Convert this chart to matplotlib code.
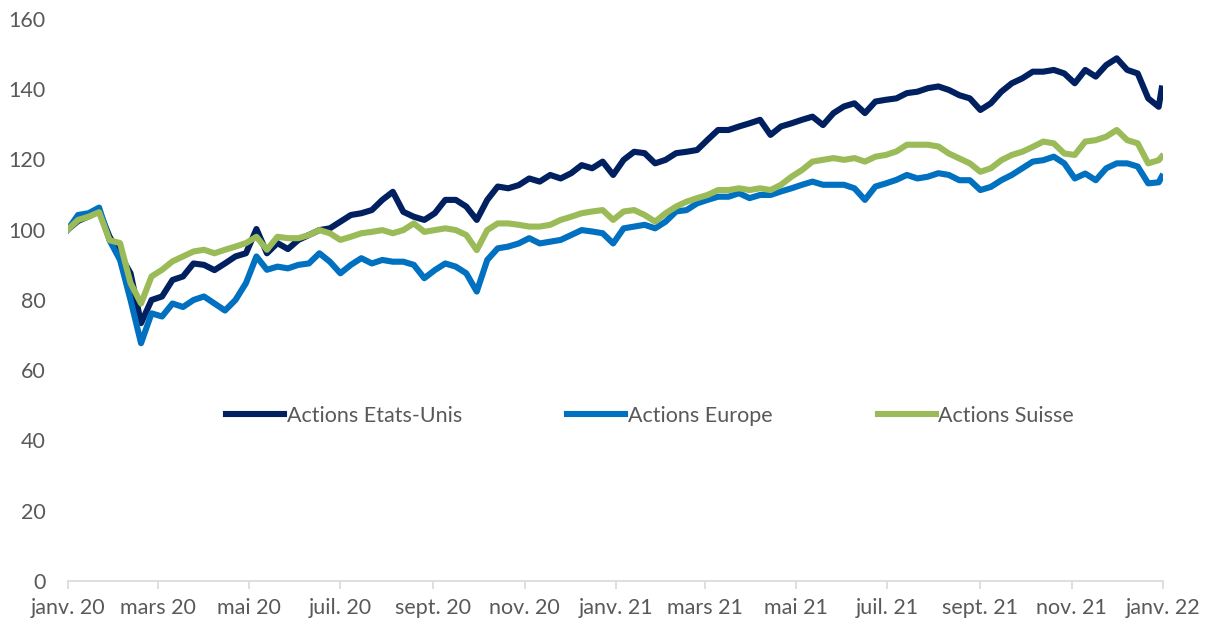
import matplotlib
matplotlib.use("Agg")
import matplotlib.pyplot as plt
import pandas as pd

# weekly readings from 2020-01-01, last value at 2021-12-31
us = [100, 102.5, 103.8, 105.3, 98, 92.8, 87.6, 73.4, 80, 81,
      85.7, 86.7, 90.4, 90, 88.5, 90.4, 92.4, 93.3, 100.2, 93.3,
      96.2, 94.5, 97.1, 98.5, 99.9, 100.4, 102.3, 104.2, 104.7, 105.6,
      108.5, 110.8, 105.1, 103.7, 102.8, 104.7, 108.5, 108.5, 106.6, 102.8,
      108.5, 112.3, 111.8, 112.7, 114.6, 113.7, 115.6, 114.6, 116.1, 118.4,
      117.5, 119.4, 115.6, 119.9, 122.2, 121.8, 118.9, 119.9, 121.8, 122.2,
      122.7, 125.6, 128.4, 128.4, 129.4, 130.3, 131.3, 127.0, 129.4, 130.3,
      131.3, 132.2, 129.8, 133.2, 135.1, 136, 133.2, 136.5, 137, 137.4,
      138.9, 139.3, 140.3, 140.8, 139.8, 138.3, 137.4, 134.1, 136, 139.3,
      141.7, 143.1, 145, 145, 145.5, 144.5, 141.7, 145.5, 143.6, 146.9,
      148.8, 145.5, 144.5, 137.4, 135, 140.2]
europe = [100, 104.2, 104.7, 106.3, 97, 91.4, 80, 67.7, 76.2, 75.3,
          79, 78, 80, 81, 79, 77, 80, 84.8, 92.4, 88.6,
          89.5, 89, 90, 90.4, 93.3, 90.9, 87.6, 90, 91.9, 90.4,
          91.4, 90.9, 90.9, 90, 86.2, 88.5, 90.4, 89.5, 87.6, 82.4,
          91.4, 94.7, 95.2, 96.1, 97.6, 96.1, 96.6, 97.1, 98.5, 99.9,
          99.5, 99, 96.1, 100.4, 100.9, 101.4, 100.4, 102.3, 105.2, 105.6,
          107.5, 108.5, 109.4, 109.4, 110.4, 109, 109.9, 109.9, 110.9, 111.8,
          112.8, 113.7, 112.8, 112.8, 112.8, 111.8, 108.5, 112.3, 113.2, 114.2,
          115.6, 114.6, 115.1, 116.1, 115.6, 114.1, 114.1, 111.3, 112.2, 114.1,
          115.6, 117.5, 119.4, 119.8, 120.8, 118.9, 114.6, 116, 114.1, 117.5,
          118.9, 118.9, 118, 113.2, 113.5, 115.1]
suisse = [100, 102.8, 103.7, 105, 97, 96.2, 84.8, 79, 86.7, 88.6,
          91, 92.4, 93.8, 94.3, 93.3, 94.3, 95.2, 96.2, 98, 94.3,
          98, 97.6, 97.6, 98.5, 99.9, 99, 97.1, 98, 99, 99.4,
          99.9, 99, 99.9, 101.8, 99.4, 99.9, 100.4, 99.9, 98.5, 94.2,
          99.9, 101.8, 101.8, 101.4, 100.9, 100.9, 101.4, 102.8, 103.7, 104.7,
          105.2, 105.6, 102.8, 105.2, 105.6, 104.2, 102.3, 104.7, 106.6, 108,
          109, 109.9, 111.3, 111.3, 111.8, 111.3, 111.8, 111.3, 112.8, 115.1,
          117, 119.4, 119.9, 120.4, 119.9, 120.4, 119.4, 120.8, 121.3, 122.3,
          124.2, 124.2, 124.2, 123.7, 121.7, 120.3, 118.9, 116.5, 117.5, 119.8,
          121.3, 122.2, 123.6, 125.1, 124.6, 121.7, 121.3, 125.1, 125.5, 126.5,
          128.4, 125.5, 124.6, 118.9, 119.8, 120.8]

dates = list(pd.date_range("2020-01-01", periods=105, freq="7D")) + [pd.Timestamp("2021-12-31")]

tick_dates = pd.date_range("2020-01-01", "2022-01-01", freq="2MS")
tick_labels = ["janv. 20", "mars 20", "mai 20", "juil. 20", "sept. 20", "nov. 20",
               "janv. 21", "mars 21", "mai 21", "juil. 21", "sept. 21", "nov. 21",
               "janv. 22"]

series = [("Actions Etats-Unis", us, "#002060"),
          ("Actions Europe", europe, "#0070C0"),
          ("Actions Suisse", suisse, "#9BBB59")]

plt.rcParams["font.family"] = ["Lato", "DejaVu Sans"]
grey = "#595959"
fs = 15.5

fig = plt.figure(figsize=(12.18, 6.27), dpi=100)
ax = fig.add_axes([0.0555, 0.0734, 0.8995, 0.8963])

for name, vals, col in series:
    ax.plot(dates, vals, color=col, lw=4.4, label=name, solid_joinstyle="round")

ax.set_ylim(0, 160)
ax.set_yticks(range(0, 161, 20))
ax.set_xlim(pd.Timestamp("2020-01-01"), pd.Timestamp("2022-01-01"))
ax.set_xticks(tick_dates)
ax.set_xticklabels(tick_labels)

for s in ["top", "right", "left"]:
    ax.spines[s].set_visible(False)
ax.spines["bottom"].set_color("#d9d9d9")
ax.spines["bottom"].set_linewidth(1.2)
ax.tick_params(axis="y", length=0, pad=16, labelsize=fs, labelcolor=grey)
ax.tick_params(axis="x", length=6, width=1.2, color="#d9d9d9", direction="out",
               pad=6, labelsize=fs, labelcolor=grey)

fig.legend(loc="center", bbox_to_anchor=(0.5337, 0.3365), ncol=3, frameon=False,
           fontsize=fs, labelcolor=grey, handlelength=2.7, handletextpad=0.1,
           columnspacing=4.9)

fig.savefig("out.png", dpi=100)
plt.close(fig)
